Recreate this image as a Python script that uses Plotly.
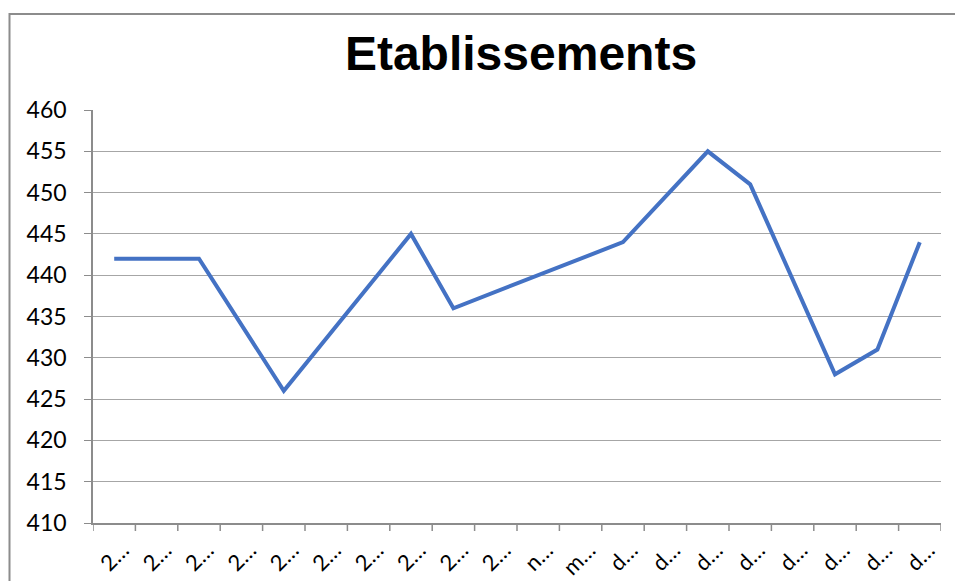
import plotly.graph_objects as go

categories = ["2…"] * 10 + ["n…", "m…"] + ["d…"] * 8
values = [442, None, 442, None, 426, None, None, 445, 436, None,
          None, None, 444, None, 455, 451, None, 428, 431, 444]
y_ticks = [410, 415, 420, 425, 430, 435, 440, 445, 450, 455, 460]

x_idx = list(range(len(categories)))

W, H = 955, 581
L, R, T, B = 93, 941, 110, 523

fig = go.Figure()
fig.add_trace(go.Scatter(
    x=x_idx, y=values, mode="lines", connectgaps=True,
    line=dict(color="#4472C4", width=4), showlegend=False,
    hoverinfo="skip",
))

fig.update_layout(
    width=W, height=H,
    margin=dict(l=L, r=W - R, t=T, b=H - B, pad=0, autoexpand=False),
    paper_bgcolor="white", plot_bgcolor="white",
    title=dict(text="<b>Etablissements</b>", xref="container", yref="container",
               x=521 / W, y=1 - 53 / H, xanchor="center", yanchor="middle",
               font=dict(family="Liberation Sans", size=48, color="black")),
    xaxis=dict(
        range=[-0.5, len(categories) - 0.5], automargin=False,
        tickmode="array", tickvals=[i + 0.2 for i in x_idx], ticktext=categories,
        tickangle=-45, showgrid=False, zeroline=False,
        showline=True, linecolor="#8c8c8c", linewidth=1.5,
        ticks="", tickfont=dict(family="Lato", size=22, color="black"),
        ticklabelstandoff=4,
    ),
    yaxis=dict(
        range=[410, 460], tickvals=y_ticks, showgrid=True, automargin=False,
        gridcolor="#a6a6a6", gridwidth=1.3, zeroline=False,
        showline=True, linecolor="#8c8c8c", linewidth=1.5,
        ticks="outside", ticklen=7, tickcolor="#8c8c8c",
        tickfont=dict(family="Lato", size=23, color="black"),
        ticklabelstandoff=13,
    ),
)

# x tick marks between categories (Excel-style)
for i in range(len(categories) + 1):
    fig.add_shape(type="line", xref="x", yref="paper",
                  x0=i - 0.5, x1=i - 0.5, y0=0, y1=-8 / (B - T),
                  line=dict(color="#8c8c8c", width=1.5), layer="above")

# chart area border
pw, ph = R - L, B - T
fig.add_shape(type="rect", xref="paper", yref="paper",
              x0=(9.5 - L) / pw, x1=(975 - L) / pw,
              y0=(B - 600) / ph, y1=(B - 14) / ph,
              line=dict(color="#8c8c8c", width=2), fillcolor="rgba(0,0,0,0)")

fig.write_html("out.html", config={"displayModeBar": False},
               post_script="document.body.style.margin='0';document.body.style.overflow='hidden';")
